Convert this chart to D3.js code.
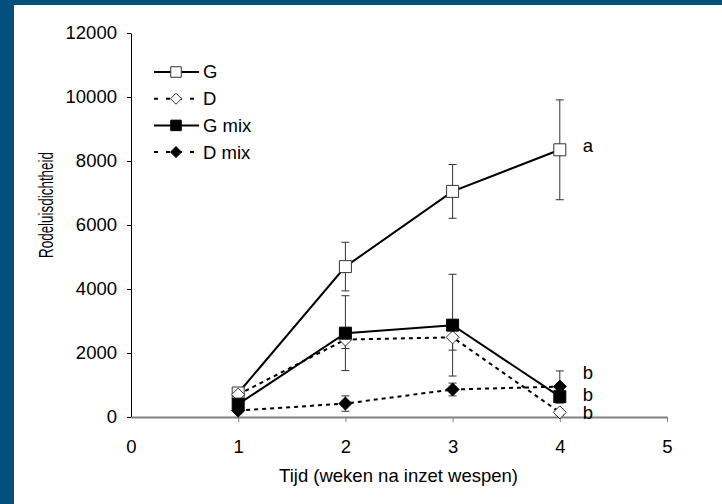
<!DOCTYPE html>
<html>
<head>
<meta charset="utf-8">
<script src="https://cdn.jsdelivr.net/npm/d3@7"></script>
<style>
  body { margin: 0; background: #01507d; }
  text { font-family: "Liberation Sans", Arial, sans-serif; fill: #000; }
</style>
</head>
<body>
<div id="chart"></div>
<script>
// weeks after releasing the wasps
var weeks = [1, 2, 3, 4];

// series names, shown in the legend
var seriesNames = ["G", "D", "G mix", "D mix"];

// mean aphid density per week
var valG    = [750, 4700, 7050, 8350];
var valD    = [700, 2420, 2490, 145];
var valGmix = [400, 2620, 2870, 635];
var valDmix = [200, 420, 860, 950];

// standard error per week
var errG    = [100, 760, 840, 1560];
var errD    = [100, 280, 400, 100];
var errGmix = [150, 1170, 1590, 200];
var errDmix = [80, 240, 200, 490];

// significance letters at week 4, with the height they sit at
var letters = ["a", "b", "b", "b"];
var letterY = [8470, 1375, 690, 125];

var xTicks = [0, 1, 2, 3, 4, 5];
var yTicks = [0, 2000, 4000, 6000, 8000, 10000, 12000];

var width = 722, height = 504;
var margin = {top: 33, right: 55, bottom: 87, left: 131};

var series = [
  {name: seriesNames[0], vals: valG,    errs: errG,    dash: null,  fill: "#fff", shape: "square"},
  {name: seriesNames[1], vals: valD,    errs: errD,    dash: "4,4", fill: "#fff", shape: "diamond"},
  {name: seriesNames[2], vals: valGmix, errs: errGmix, dash: null,  fill: "#000", shape: "square"},
  {name: seriesNames[3], vals: valDmix, errs: errDmix, dash: "4,4", fill: "#000", shape: "diamond"}
];

var svg = d3.select("#chart").append("svg")
    .attr("width", width)
    .attr("height", height);

// blue frame and white panel
svg.append("rect").attr("width", width).attr("height", height).attr("fill", "#01507d");
svg.append("rect").attr("x", 14).attr("y", 5)
    .attr("width", width - 14).attr("height", height - 5).attr("fill", "#fff");

var x = d3.scaleLinear().domain([0, 5]).range([margin.left, width - margin.right]);
var y = d3.scaleLinear().domain([0, 12000]).range([height - margin.bottom, margin.top]);

// y axis
var yAxis = svg.append("g")
    .attr("transform", "translate(" + margin.left + ",0)")
    .call(d3.axisLeft(y).tickValues(yTicks).tickFormat(d3.format("d"))
      .tickSize(4).tickPadding(10).tickSizeOuter(0));
yAxis.select(".domain").attr("stroke", "#000");
yAxis.selectAll(".tick line").attr("stroke", "#000");
yAxis.selectAll("text").style("font-size", "18.5px").attr("fill", "#111");

// x axis (grey)
var xAxis = svg.append("g")
    .attr("transform", "translate(0," + y(0) + ")")
    .call(d3.axisBottom(x).tickValues(xTicks).tickFormat(d3.format("d"))
      .tickSize(5).tickPadding(18).tickSizeOuter(0));
xAxis.select(".domain").attr("stroke", "#808080").attr("stroke-width", 2);
xAxis.selectAll(".tick line").attr("stroke", "#808080");
xAxis.selectAll(".tick").filter(function(d) { return d === 0; }).select("line").remove();
xAxis.selectAll("text").style("font-size", "18.5px").attr("fill", "#111");

// axis titles
svg.append("text")
    .attr("x", (x(0) + x(5)) / 2 - 0.5)
    .attr("y", 481.5)
    .attr("text-anchor", "middle")
    .style("font-size", "18.5px")
    .text("Tijd (weken na inzet wespen)");

svg.append("text")
    .attr("transform", "translate(53,205) rotate(-90)")
    .attr("text-anchor", "middle")
    .attr("textLength", 106)
    .attr("lengthAdjust", "spacingAndGlyphs")
    .style("font-size", "20px")
    .text("Rodeluisdichtheid");

function markerPath(shape, s) {
  var h = s / 2;
  if (shape === "square") {
    return "M" + (-h) + "," + (-h) + "H" + h + "V" + h + "H" + (-h) + "Z";
  }
  return "M0," + (-h) + "L" + h + ",0L0," + h + "L" + (-h) + ",0Z";
}

var line = d3.line()
    .x(function(d, i) { return x(weeks[i]); })
    .y(function(d) { return y(d); });

var plot = svg.append("g");

series.forEach(function(s) {
  // error bars
  var eb = plot.append("g").attr("stroke", "#333").attr("stroke-width", 1);
  s.vals.forEach(function(v, i) {
    var cx = x(weeks[i]);
    var top = y(v + s.errs[i]), bot = y(Math.max(0, v - s.errs[i]));
    eb.append("line").attr("x1", cx).attr("x2", cx).attr("y1", top).attr("y2", bot);
    eb.append("line").attr("x1", cx - 4).attr("x2", cx + 4).attr("y1", top).attr("y2", top);
    eb.append("line").attr("x1", cx - 4).attr("x2", cx + 4).attr("y1", bot).attr("y2", bot);
  });
});

series.forEach(function(s) {
  plot.append("path")
      .datum(s.vals)
      .attr("d", line)
      .attr("fill", "none")
      .attr("stroke", "#000")
      .attr("stroke-width", 2)
      .attr("stroke-dasharray", s.dash);

  plot.selectAll(null)
      .data(s.vals)
      .enter().append("path")
      .attr("transform", function(d, i) { return "translate(" + x(weeks[i]) + "," + y(d) + ")"; })
      .attr("d", markerPath(s.shape, s.shape === "square" ? 12 : 13))
      .attr("fill", s.fill)
      .attr("stroke", s.fill === "#000" ? "#000" : "#333")
      .attr("stroke-width", 1);
});

// significance letters
svg.selectAll(".letter")
    .data(letters)
    .enter().append("text")
    .attr("class", "letter")
    .attr("x", x(4) + 28)
    .attr("y", function(d, i) { return y(letterY[i]); })
    .attr("dy", "0.35em")
    .attr("text-anchor", "middle")
    .style("font-size", "18.5px")
    .text(function(d) { return d; });

// legend
var legend = svg.append("g").attr("transform", "translate(154,72)");
series.forEach(function(s, i) {
  var row = legend.append("g").attr("transform", "translate(0," + (i * 26.7) + ")");
  row.append("line")
      .attr("x1", 0).attr("x2", 45)
      .attr("stroke", "#000").attr("stroke-width", 2)
      .attr("stroke-dasharray", s.dash ? "4,8" : null);
  row.append("path")
      .attr("transform", "translate(22,0)")
      .attr("d", markerPath(s.shape, s.shape === "square" ? 10.5 : 11))
      .attr("fill", s.fill)
      .attr("stroke", s.fill === "#000" ? "#000" : "#333");
  row.append("text")
      .attr("x", 49)
      .attr("dy", "0.35em")
      .style("font-size", "18.5px")
      .text(s.name);
});
</script>
</body>
</html>
